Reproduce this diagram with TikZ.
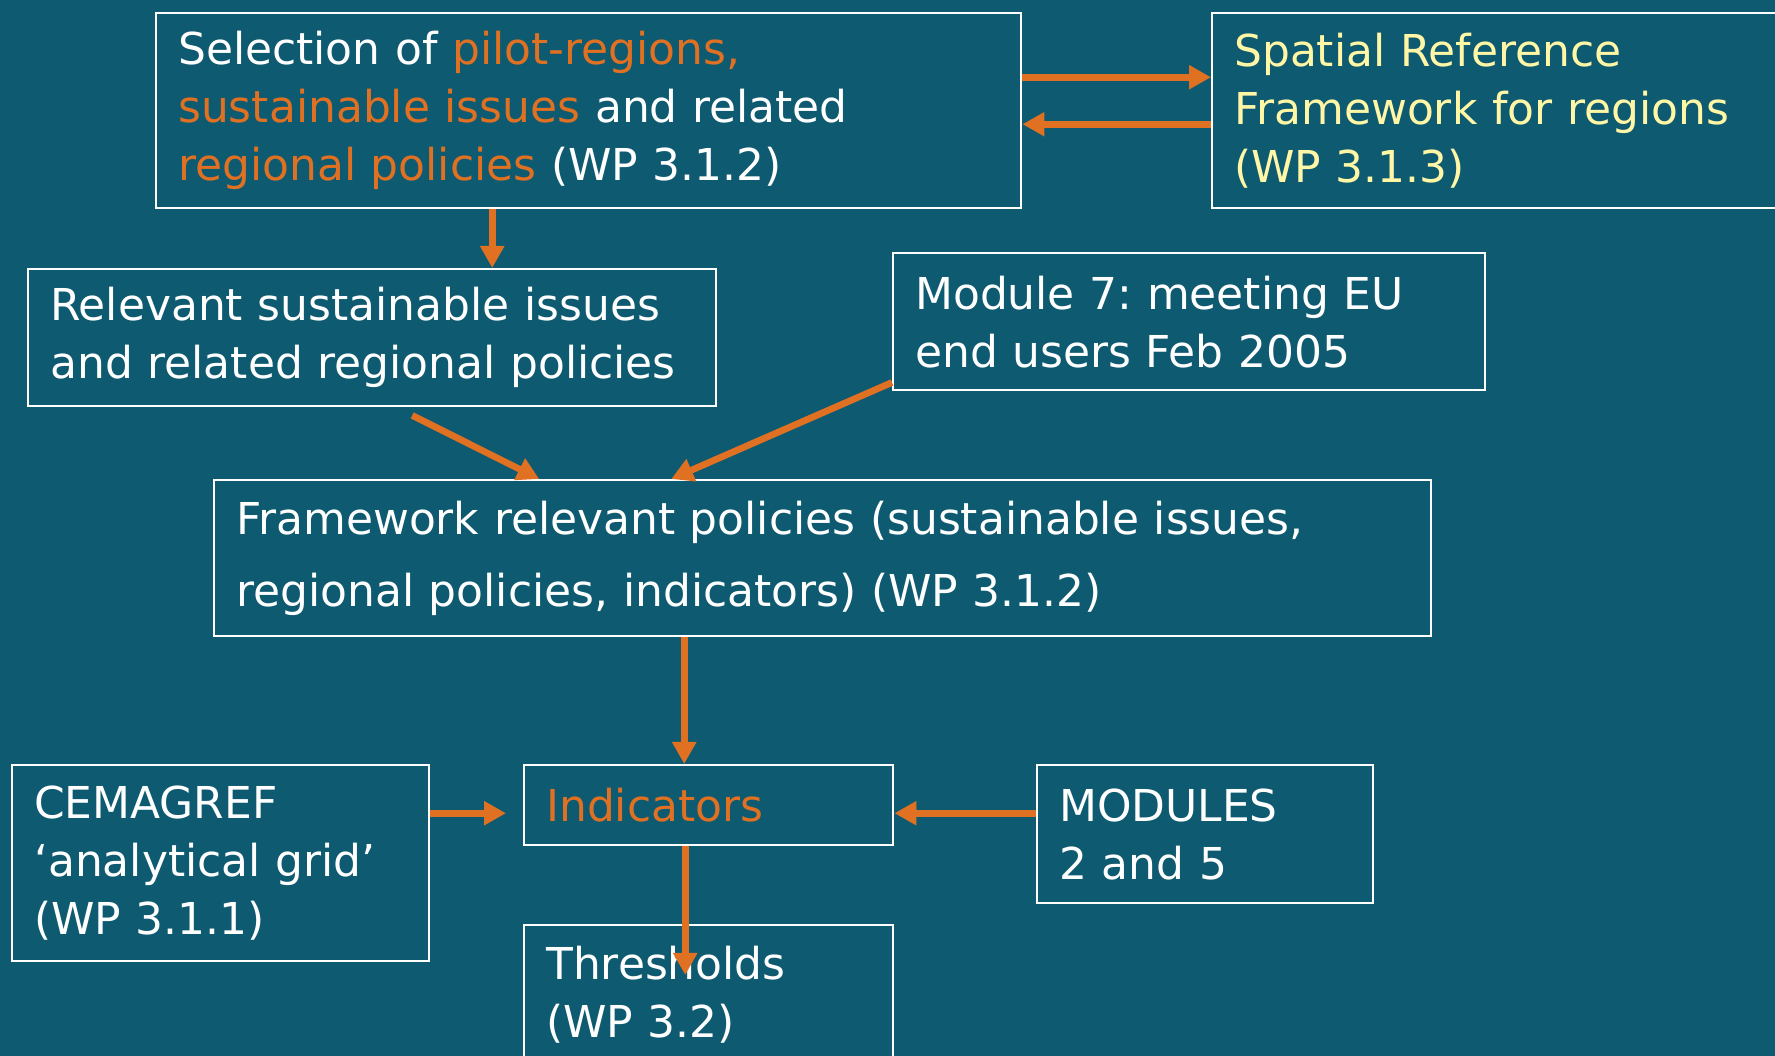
\documentclass[tikz,border=0pt]{standalone}
\usepackage{fontspec}
\setmainfont{DejaVu Sans}
\usetikzlibrary{arrows.meta}
\definecolor{slidebg}{HTML}{0E5A70}
\definecolor{hot}{HTML}{E07022}
\definecolor{pale}{HTML}{FFF6A6}
\frenchspacing
\begin{document}
\begin{tikzpicture}[x=0.1mm, y=-0.1mm,
    box/.style = {draw=white, line width=0.7pt, anchor=north west, align=left, inner xsep=2.2mm, inner ysep=0pt, text=white, font=\fontsize{12.5}{16.5}\selectfont},
    flow/.style = {draw=hot, line width=1.9pt, -{Triangle[length=2.2mm,width=2.3mm]}}]
    \fill[slidebg] (0,0) rectangle (1775,1056);
    \useasboundingbox (0,0) rectangle (1775,1056);
    \node[box, text width=82.1mm, minimum height=19.5mm] (sel) at (155,12) {Selection of \textcolor{hot}{pilot-regions,}\\\textcolor{hot}{sustainable issues} and related\\\textcolor{hot}{regional policies} (WP 3.1.2)};
    \node[box, text=pale, text width=55.6mm, minimum height=19.5mm] (srf) at (1211,12) {Spatial Reference\\Framework for regions\\(WP 3.1.3)};
    \node[box, text width=64.4mm, minimum height=13.7mm] (rel) at (27,268) {Relevant sustainable issues\\and related regional policies};
    \node[box, text width=54.8mm, minimum height=13.7mm] (mod7) at (892,252) {Module 7: meeting EU\\end users Feb 2005};
    \node[box, text width=117.3mm, minimum height=15.6mm, font=\fontsize{12.5}{20.5}\selectfont] (fw) at (213,479) {Framework relevant policies (sustainable issues,\\regional policies, indicators) (WP 3.1.2)};
    \node[box, text width=37.3mm, minimum height=19.6mm] (cem) at (11,764) {CEMAGREF\\`analytical grid'\\(WP 3.1.1)};
    \node[box, text=hot, text width=32.5mm, minimum height=8mm] (ind) at (523,764) {Indicators};
    \node[box, text width=29.2mm, minimum height=13.8mm] (mods) at (1036,764) {MODULES\\2 and 5};
    \node[box, text width=32.5mm, minimum height=13.8mm] (thr) at (523,924) {Thresholds\\(WP 3.2)};
    \draw[flow] ([yshift=3.35mm]sel.east) -- ([yshift=3.35mm]srf.west);
    \draw[flow] ([yshift=-1.35mm]srf.west) -- ([yshift=-1.35mm]sel.east);
    \draw[flow] ([xshift=-9.65mm]sel.south) -- ([xshift=-9.65mm]sel.south |- rel.north);
    \draw[flow] ([xshift=4mm,yshift=-0.8mm]rel.south) -- ([xshift=-28.35mm]fw.north);
    \draw[flow] ([yshift=0.9mm]mod7.south west) -- ([xshift=-15.15mm]fw.north);
    \draw[flow] ([xshift=-13.85mm]fw.south) -- ([xshift=-13.85mm]fw.south |- ind.north);
    \draw[flow] ([yshift=-0.8mm]ind.west -| cem.east) -- ([xshift=-1.7mm,yshift=-0.8mm]ind.west);
    \draw[flow] ([yshift=-0.8mm]ind.east -| mods.west) -- ([yshift=-0.8mm]ind.east);
    \draw[flow] ([xshift=-2.35mm]ind.south) -- ([xshift=-2.35mm,yshift=-5.1mm]thr.north);
\end{tikzpicture}
\end{document}
